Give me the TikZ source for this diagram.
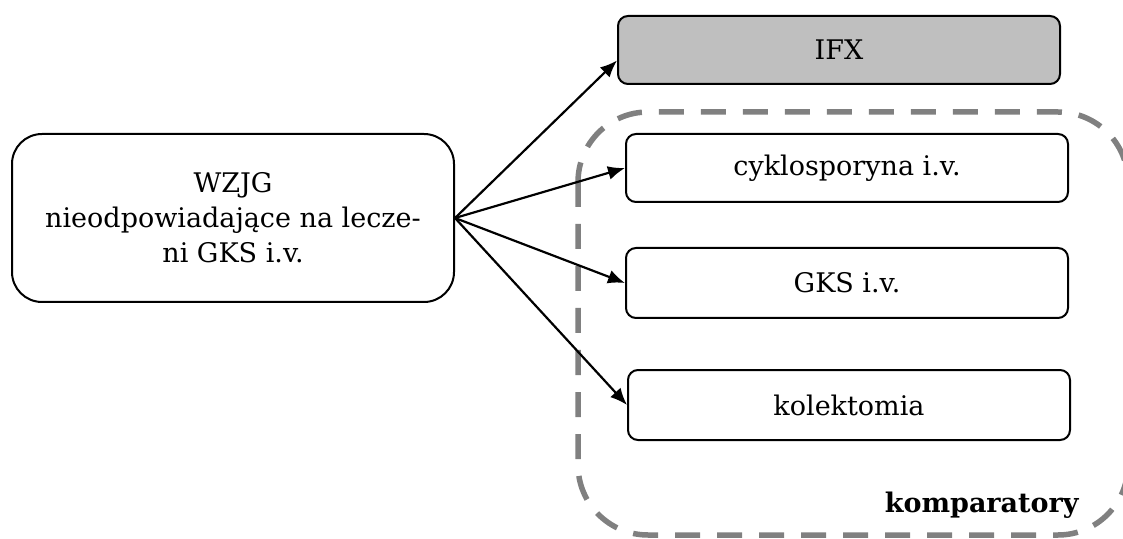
\documentclass[tikz,border=0pt]{standalone}
\usepackage{fontspec}
\setmainfont{DejaVu Serif}
\usepackage{xcolor}
\usetikzlibrary{positioning}
\usetikzlibrary{arrows.meta}
\usetikzlibrary{calc}
\definecolor{komgray}{HTML}{808080}
\definecolor{ifxfill}{HTML}{BFBFBF}

\begin{document}
\begin{tikzpicture}[x=0.5pt, y=-0.5pt,
		box/.style={draw=black, line width=1pt, rounded corners=5pt, minimum width=221pt, minimum height=34pt, inner sep=0pt, font=\fontsize{13.5}{17.5}\selectfont},
		arr/.style={line width=1.1pt, -{Latex[length=8.5pt,width=7pt]}}]
			\useasboundingbox (0,0) rectangle (1123,539);
			\draw[line width=2.75pt, komgray, dash pattern=on 12.5pt off 8.5pt, rounded corners=35pt] (578,112) rectangle (1128,535);
			\node[box, minimum height=84pt, rounded corners=15pt, align=center] (wzjg) at (233,218) {WZJG\\nieodpowiadające na lecze-\\ni GKS i.v.};
			\node[box, fill=ifxfill] (ifx) at (839,50) {IFX};
			\node[box] (cyklo) at (847,168) {cyklosporyna i.v.};
			\node[box, minimum height=35pt] (gks) at (847,283) {GKS i.v.};
			\node[box, minimum height=35pt] (kolekt) at (849,405) {kolektomia};
			\node[font=\bfseries\fontsize{13.5}{17.5}\selectfont, anchor=base east, inner sep=0pt] (komp) at (1079,512) {komparatory};
			\draw[arr] (wzjg.east) -- ($(ifx.west)!0.3!(ifx.south west)$);
			\draw[arr] (wzjg.east) -- (cyklo.west);
			\draw[arr] (wzjg.east) -- (gks.west);
			\draw[arr] (wzjg.east) -- (kolekt.west);
		\end{tikzpicture}
\end{document}
